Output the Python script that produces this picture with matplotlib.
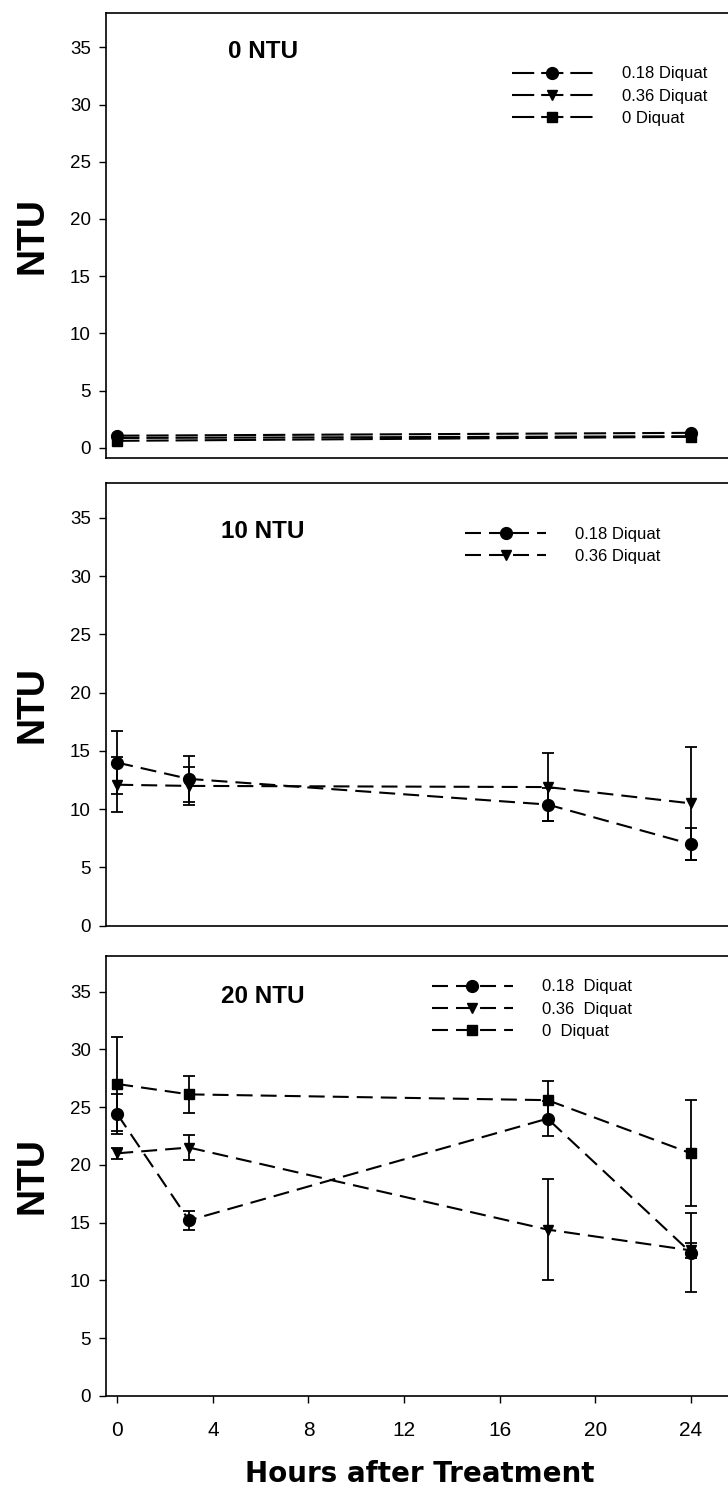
import matplotlib
matplotlib.use("Agg")
import matplotlib.pyplot as plt

plt.rcParams['font.family'] = ['Liberation Sans', 'DejaVu Sans']
plt.rcParams['lines.scale_dashes'] = False

# hours after treatment
hours = [0, 3, 18, 24]
hours_0ntu = [0, 24]

# 0 NTU panel (no error bars visible)
ntu0_d018 = [1.05, 1.3]
ntu0_d036 = [0.85, 1.0]
ntu0_d0 = [0.6, 0.95]

# 10 NTU panel
ntu10_d018 = [14.0, 12.6, 10.4, 7.0]
ntu10_d018_err = [2.7, 2.0, 1.4, 1.4]
ntu10_d036 = [12.1, 12.0, 11.9, 10.5]
ntu10_d036_err = [2.35, 1.6, 2.9, 4.85]

# 20 NTU panel
ntu20_d018 = [24.4, 15.2, 24.0, 12.4]
ntu20_d018_err = [1.7, 0.8, 1.5, 3.4]
ntu20_d036 = [21.0, 21.5, 14.4, 12.6]
ntu20_d036_err = [0.5, 1.05, 4.35, 0.65]
ntu20_d0 = [27.0, 26.1, 25.6, 21.0]
ntu20_d0_err = [4.1, 1.6, 1.7, 4.6]

x_ticks = [0, 4, 8, 12, 16, 20, 24]
y_ticks = [0, 5, 10, 15, 20, 25, 30, 35]

W, H = 728, 1496
fig = plt.figure(figsize=(W / 100, H / 100), dpi=100)

def make_axes(top, bottom, ylim):
    left, right = 106, 740
    ax = fig.add_axes([left / W, 1 - bottom / H, (right - left) / W, (bottom - top) / H])
    ax.set_xlim(-0.47, 26.05)
    ax.set_ylim(*ylim)
    ax.set_yticks(y_ticks)
    ax.tick_params(axis='y', direction='out', length=5, width=1, labelsize=13.5, pad=6)
    for s in ax.spines.values():
        s.set_linewidth(1.2)
    return ax

def series(ax, x, y, marker, ms, label, err=None, dash=(11.5, 5.8)):
    line, = ax.plot(x, y, color='k', lw=1.5, ls=(0, dash), marker=marker, ms=ms,
                    mfc='k', mec='k', label=label)
    if err is not None:
        ax.errorbar(x, y, yerr=err, fmt='none', ecolor='k', elinewidth=1.3,
                    capsize=4.5, capthick=1.3)
    return line

def add_legend(ax, anchor):
    ax.legend(loc='upper left', bbox_to_anchor=anchor, frameon=False, fontsize=12,
              borderpad=0, borderaxespad=0, handlelength=4.85, handletextpad=1.75,
              labelspacing=0.43, numpoints=1)

# 0 NTU
ax1 = make_axes(13, 458, (-0.9, 38.0))
ax1.tick_params(axis='x', bottom=False, labelbottom=False)
series(ax1, hours_0ntu, ntu0_d018, 'o', 8.5, '0.18 Diquat', dash=(16, 5))
series(ax1, hours_0ntu, ntu0_d036, 'v', 7, '0.36 Diquat', dash=(16, 5))
series(ax1, hours_0ntu, ntu0_d0, 's', 7, '0 Diquat', dash=(16, 5))
ax1.text(6.1, 34.6, '0 NTU', fontsize=17.5, fontweight='bold', ha='center', va='center')
add_legend(ax1, (0.640, 0.880))
ax1.set_ylabel('NTU', fontsize=27, fontweight='bold', labelpad=14)

# 10 NTU
ax2 = make_axes(483, 925.7, (0, 38.0))
ax2.tick_params(axis='x', bottom=False, labelbottom=False)
series(ax2, hours, ntu10_d018, 'o', 8.5, '0.18 Diquat', ntu10_d018_err)
series(ax2, hours, ntu10_d036, 'v', 7, '0.36 Diquat', ntu10_d036_err)
ax2.text(6.1, 33.8, '10 NTU', fontsize=17.5, fontweight='bold', ha='center', va='center')
add_legend(ax2, (0.567, 0.901))
ax2.set_ylabel('NTU', fontsize=27, fontweight='bold', labelpad=14)

# 20 NTU
ax3 = make_axes(955.7, 1396, (0, 38.1))
series(ax3, hours, ntu20_d018, 'o', 8.5, '0.18  Diquat', ntu20_d018_err)
series(ax3, hours, ntu20_d036, 'v', 7, '0.36  Diquat', ntu20_d036_err)
series(ax3, hours, ntu20_d0, 's', 7, '0  Diquat', ntu20_d0_err)
ax3.text(6.1, 34.6, '20 NTU', fontsize=17.5, fontweight='bold', ha='center', va='center')
add_legend(ax3, (0.514, 0.946))
ax3.set_ylabel('NTU', fontsize=27, fontweight='bold', labelpad=14)
ax3.set_xticks(x_ticks)
ax3.tick_params(axis='x', direction='out', length=5, width=1, labelsize=15, pad=13)

fig.text(420 / W, 1 - 1474 / H, 'Hours after Treatment', fontsize=20, fontweight='bold',
         family=['DejaVu Sans'], ha='center', va='center')

fig.savefig('out.png', dpi=100)
